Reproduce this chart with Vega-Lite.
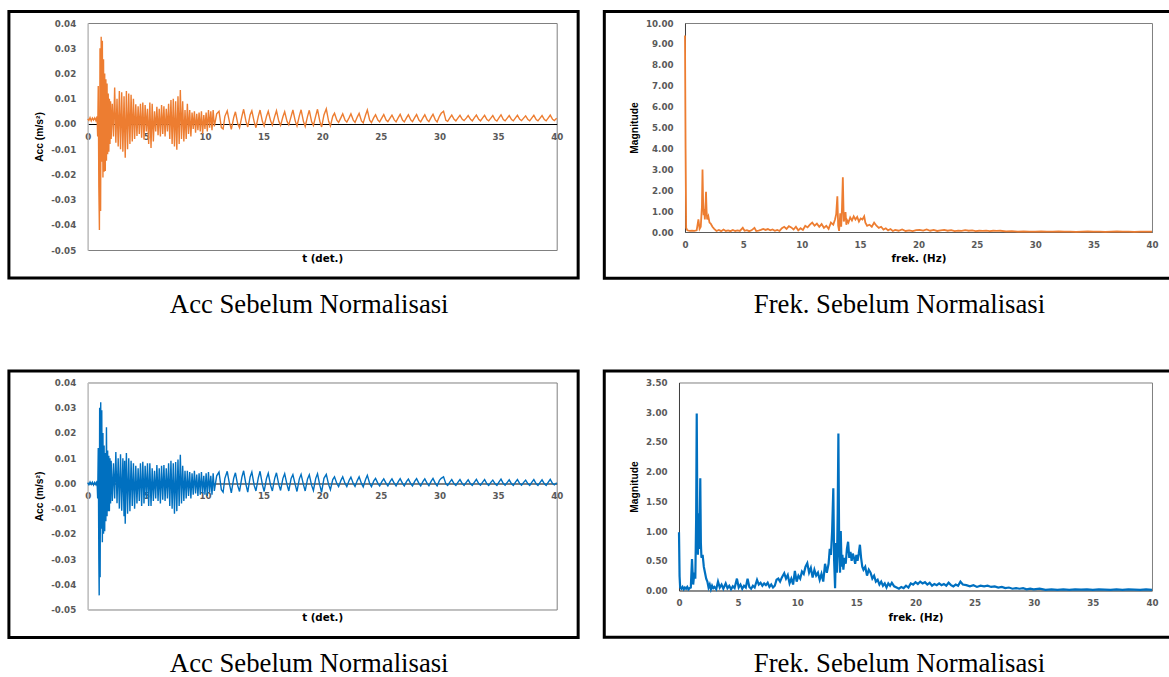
{
  "$schema": "https://vega.github.io/schema/vega-lite/v6.json",
  "padding": {"left": 6.7, "top": 9, "right": 0, "bottom": 0},
  "background": "white",
  "config": {
    "locale": {"number": {"decimal": ".", "thousands": ",", "grouping": [3], "currency": ["", ""], "minus": "-"}},
    "view": {"stroke": "#7f7f7f", "strokeWidth": 1},
    "axis": {"grid": false, "ticks": false, "tickSize": 0, "labelFont": "DejaVu Sans", "labelFontWeight": "bold", "labelFontSize": 8.7, "labelColor": "#595959", "labelFlush": false, "labelOverlap": false, "titleColor": "black"},
    "axisX": {"titleFont": "DejaVu Sans", "titleFontWeight": "bold", "titleFontSize": 10.3, "labelPadding": 8},
    "axisY": {"titleFont": "Liberation Sans", "titleFontWeight": "bold", "titleFontSize": 10.3, "labelPadding": 12, "titlePadding": 6},
    "title": {"font": "Liberation Serif", "fontSize": 26.7, "fontWeight": "normal", "color": "black", "orient": "bottom", "anchor": "middle", "offset": 12.3}
  },
  "datasets": {
    "accBefore": [
      {"t":0,"acc":0.0020},{"t":0.1,"acc":0.0014},{"t":0.2,"acc":0.0025},{"t":0.3,"acc":0.0012},{"t":0.4,"acc":0.0023},{"t":0.5,"acc":0.0015},{"t":0.6,"acc":0.0024},{"t":0.7,"acc":0.0013},{"t":0.8,"acc":0.0030},
      {"t":0.85,"acc":-0.0050},{"t":0.9,"acc":0.0150},{"t":0.95,"acc":-0.0250},{"t":1.0,"acc":-0.0421},{"t":1.05,"acc":0.0300},{"t":1.1,"acc":-0.0345},{"t":1.15,"acc":0.0345},{"t":1.2,"acc":-0.0150},{"t":1.25,"acc":0.0330},{"t":1.3,"acc":-0.0213},{"t":1.35,"acc":0.0256},{"t":1.4,"acc":-0.0190},{"t":1.45,"acc":0.0200},{"t":1.5,"acc":-0.0187},{"t":1.55,"acc":0.0177},{"t":1.6,"acc":-0.0146},{"t":1.65,"acc":0.0160},{"t":1.7,"acc":-0.0120},{"t":1.75,"acc":0.0120},{"t":1.8,"acc":-0.0110},{"t":1.85,"acc":0.0100},{"t":1.9,"acc":-0.0080},{"t":1.95,"acc":0.0090},{"t":2.0,"acc":-0.0060},
      {"t":2.1,"acc":0.0080},{"t":2.2,"acc":-0.0050},{"t":2.3,"acc":0.0144},{"t":2.4,"acc":-0.0075},{"t":2.5,"acc":0.0100},{"t":2.6,"acc":-0.0090},{"t":2.7,"acc":0.0130},{"t":2.8,"acc":-0.0100},{"t":2.9,"acc":0.0125},{"t":3.0,"acc":-0.0110},{"t":3.1,"acc":0.0110},{"t":3.2,"acc":-0.0134},{"t":3.3,"acc":0.0130},{"t":3.4,"acc":-0.0100},{"t":3.5,"acc":0.0120},{"t":3.6,"acc":-0.0080},{"t":3.7,"acc":0.0115},{"t":3.8,"acc":-0.0070},{"t":3.9,"acc":0.0100},{"t":4.0,"acc":-0.0060},
      {"t":4.1,"acc":0.0078},{"t":4.2,"acc":-0.0048},{"t":4.3,"acc":0.0070},{"t":4.4,"acc":-0.0040},{"t":4.5,"acc":0.0080},{"t":4.6,"acc":-0.0055},{"t":4.7,"acc":0.0085},{"t":4.8,"acc":-0.0062},{"t":4.9,"acc":0.0075},{"t":5.0,"acc":-0.0030},{"t":5.1,"acc":0.0060},{"t":5.2,"acc":-0.0080},{"t":5.3,"acc":0.0085},{"t":5.4,"acc":-0.0096},{"t":5.5,"acc":0.0080},{"t":5.6,"acc":-0.0070},{"t":5.7,"acc":0.0050},{"t":5.8,"acc":-0.0030},{"t":5.9,"acc":0.0068},{"t":6.0,"acc":-0.0045},
      {"t":6.1,"acc":0.0060},{"t":6.2,"acc":-0.0050},{"t":6.3,"acc":0.0075},{"t":6.4,"acc":-0.0040},{"t":6.5,"acc":0.0070},{"t":6.6,"acc":-0.0050},{"t":6.7,"acc":0.0060},{"t":6.8,"acc":-0.0030},{"t":6.9,"acc":0.0080},{"t":7.0,"acc":-0.0060},{"t":7.1,"acc":0.0095},{"t":7.2,"acc":-0.0080},{"t":7.3,"acc":0.0100},{"t":7.4,"acc":-0.0090},{"t":7.5,"acc":0.0090},{"t":7.6,"acc":-0.0102},{"t":7.7,"acc":0.0110},{"t":7.8,"acc":-0.0080},{"t":7.9,"acc":0.0134},{"t":8.0,"acc":-0.0060},
      {"t":8.1,"acc":0.0090},{"t":8.2,"acc":-0.0070},{"t":8.3,"acc":0.0055},{"t":8.4,"acc":-0.0060},{"t":8.5,"acc":0.0080},{"t":8.6,"acc":-0.0040},{"t":8.7,"acc":0.0055},{"t":8.8,"acc":-0.0050},{"t":8.9,"acc":0.0045},{"t":9.0,"acc":-0.0020},{"t":9.1,"acc":0.0050},{"t":9.2,"acc":-0.0035},{"t":9.3,"acc":0.0040},{"t":9.4,"acc":-0.0025},{"t":9.5,"acc":0.0045},{"t":9.6,"acc":-0.0030},{"t":9.7,"acc":0.0050},{"t":9.8,"acc":-0.0040},{"t":9.9,"acc":0.0035},{"t":10.0,"acc":-0.0020},
      {"t":10.1,"acc":0.0045},{"t":10.2,"acc":-0.0030},{"t":10.3,"acc":0.0055},{"t":10.4,"acc":-0.0015},{"t":10.5,"acc":0.0050},{"t":10.6,"acc":-0.0025},{"t":10.7,"acc":0.0055},{"t":10.8,"acc":-0.0010},
      {"t":11.0,"acc":0.0040},{"t":11.2,"acc":0.0050},{"t":11.4,"acc":-0.0015},{"t":11.55,"acc":-0.0020},{"t":11.7,"acc":0.0030},{"t":11.9,"acc":0.0052},{"t":12.1,"acc":0.0005},{"t":12.25,"acc":-0.0022},{"t":12.45,"acc":0.0025},{"t":12.6,"acc":0.0048},{"t":12.8,"acc":0.0000},{"t":12.95,"acc":-0.0015},{"t":13.15,"acc":0.0030},{"t":13.3,"acc":0.0058},{"t":13.5,"acc":0.0010},{"t":13.65,"acc":-0.0012},{"t":13.85,"acc":0.0035},{"t":14.0,"acc":0.0052},{"t":14.2,"acc":0.0008},{"t":14.35,"acc":-0.0015},{"t":14.55,"acc":0.0030},{"t":14.7,"acc":0.0055},{"t":14.9,"acc":0.0010},{"t":15.05,"acc":-0.0008},
      {"t":15.25,"acc":0.0030},{"t":15.4,"acc":0.0050},{"t":15.6,"acc":0.0012},{"t":15.75,"acc":-0.0005},{"t":15.95,"acc":0.0030},{"t":16.1,"acc":0.0052},{"t":16.3,"acc":0.0010},{"t":16.45,"acc":-0.0006},{"t":16.65,"acc":0.0028},{"t":16.8,"acc":0.0048},{"t":17.0,"acc":0.0010},{"t":17.15,"acc":-0.0004},{"t":17.35,"acc":0.0030},{"t":17.5,"acc":0.0055},{"t":17.7,"acc":0.0012},{"t":17.85,"acc":-0.0008},{"t":18.05,"acc":0.0032},{"t":18.2,"acc":0.0056},{"t":18.4,"acc":0.0010},{"t":18.55,"acc":-0.0010},{"t":18.75,"acc":0.0030},{"t":18.9,"acc":0.0054},{"t":19.1,"acc":0.0008},{"t":19.25,"acc":-0.0006},
      {"t":19.45,"acc":0.0032},{"t":19.6,"acc":0.0058},{"t":19.8,"acc":0.0010},{"t":19.95,"acc":-0.0012},{"t":20.15,"acc":0.0035},{"t":20.35,"acc":0.0060},{"t":20.55,"acc":0.0010},{"t":20.7,"acc":-0.0008},{"t":20.9,"acc":0.0030},{"t":21.05,"acc":0.0042},{"t":21.25,"acc":0.0015},{"t":21.4,"acc":0.0006},{"t":21.6,"acc":0.0025},{"t":21.75,"acc":0.0040},{"t":21.95,"acc":0.0015},{"t":22.1,"acc":0.0007},{"t":22.3,"acc":0.0025},{"t":22.45,"acc":0.0040},{"t":22.65,"acc":0.0015},{"t":22.8,"acc":0.0006},{"t":23.0,"acc":0.0028},{"t":23.15,"acc":0.0042},{"t":23.35,"acc":0.0012},{"t":23.5,"acc":0.0004},
      {"t":23.7,"acc":0.0035},{"t":23.85,"acc":0.0055},{"t":24.05,"acc":0.0015},{"t":24.2,"acc":0.0005},{"t":24.4,"acc":0.0025},{"t":24.55,"acc":0.0036},{"t":24.75,"acc":0.0015},{"t":24.9,"acc":0.0008},{"t":25.1,"acc":0.0025},{"t":25.25,"acc":0.0037},{"t":25.45,"acc":0.0015},{"t":25.6,"acc":0.0009},{"t":25.8,"acc":0.0024},{"t":25.95,"acc":0.0035},{"t":26.15,"acc":0.0016},{"t":26.3,"acc":0.0008},{"t":26.5,"acc":0.0026},{"t":26.65,"acc":0.0038},{"t":26.85,"acc":0.0015},{"t":27.0,"acc":0.0008},{"t":27.2,"acc":0.0025},{"t":27.35,"acc":0.0036},{"t":27.55,"acc":0.0016},{"t":27.7,"acc":0.0009},
      {"t":27.9,"acc":0.0026},{"t":28.05,"acc":0.0037},{"t":28.25,"acc":0.0015},{"t":28.4,"acc":0.0008},{"t":28.6,"acc":0.0025},{"t":28.75,"acc":0.0036},{"t":28.95,"acc":0.0016},{"t":29.1,"acc":0.0009},{"t":29.3,"acc":0.0027},{"t":29.45,"acc":0.0038},{"t":29.65,"acc":0.0016},{"t":29.8,"acc":0.0008},{"t":30.0,"acc":0.0030},{"t":30.15,"acc":0.0042},{"t":30.35,"acc":0.0050},{"t":30.55,"acc":0.0014},{"t":30.7,"acc":0.0010},{"t":30.9,"acc":0.0025},{"t":31.05,"acc":0.0035},{"t":31.25,"acc":0.0018},{"t":31.4,"acc":0.0012},{"t":31.6,"acc":0.0025},{"t":31.75,"acc":0.0034},{"t":31.95,"acc":0.0018},
      {"t":32.1,"acc":0.0013},{"t":32.3,"acc":0.0024},{"t":32.45,"acc":0.0033},{"t":32.65,"acc":0.0018},{"t":32.8,"acc":0.0012},{"t":33.0,"acc":0.0026},{"t":33.15,"acc":0.0035},{"t":33.35,"acc":0.0018},{"t":33.5,"acc":0.0012},{"t":33.7,"acc":0.0025},{"t":33.85,"acc":0.0034},{"t":34.05,"acc":0.0017},{"t":34.2,"acc":0.0012},{"t":34.4,"acc":0.0024},{"t":34.55,"acc":0.0033},{"t":34.75,"acc":0.0016},{"t":34.9,"acc":0.0011},{"t":35.1,"acc":0.0026},{"t":35.25,"acc":0.0036},{"t":35.45,"acc":0.0017},{"t":35.6,"acc":0.0012},{"t":35.8,"acc":0.0024},{"t":35.95,"acc":0.0033},{"t":36.15,"acc":0.0017},
      {"t":36.3,"acc":0.0012},{"t":36.5,"acc":0.0025},{"t":36.65,"acc":0.0034},{"t":36.85,"acc":0.0018},{"t":37.0,"acc":0.0013},{"t":37.2,"acc":0.0024},{"t":37.35,"acc":0.0032},{"t":37.55,"acc":0.0017},{"t":37.7,"acc":0.0012},{"t":37.9,"acc":0.0025},{"t":38.05,"acc":0.0034},{"t":38.25,"acc":0.0017},{"t":38.4,"acc":0.0012},{"t":38.6,"acc":0.0024},{"t":38.75,"acc":0.0033},{"t":38.95,"acc":0.0017},{"t":39.1,"acc":0.0012},{"t":39.3,"acc":0.0025},{"t":39.45,"acc":0.0035},{"t":39.65,"acc":0.0018},{"t":39.8,"acc":0.0013},{"t":40.0,"acc":0.0022}
    ],
    "freqBefore": [
      {"f":0,"mag":9.40},{"f":0.05,"mag":4.0},{"f":0.1,"mag":0.20},{"f":0.2,"mag":0.08},{"f":0.4,"mag":0.05},{"f":0.6,"mag":0.06},{"f":0.8,"mag":0.05},{"f":1.0,"mag":0.08},{"f":1.15,"mag":0.60},{"f":1.25,"mag":0.15},{"f":1.35,"mag":0.25},{"f":1.45,"mag":1.20},{"f":1.5,"mag":2.99},{"f":1.55,"mag":1.50},{"f":1.6,"mag":0.80},{"f":1.65,"mag":1.10},{"f":1.7,"mag":0.60},{"f":1.75,"mag":1.10},{"f":1.8,"mag":1.92},{"f":1.85,"mag":1.00},{"f":1.9,"mag":0.60},{"f":2.0,"mag":0.75},{"f":2.1,"mag":0.45},{"f":2.2,"mag":0.40},{"f":2.35,"mag":0.25},{"f":2.5,"mag":0.15},
      {"f":2.7,"mag":0.05},{"f":2.9,"mag":0.10},{"f":3.1,"mag":0.04},{"f":3.3,"mag":0.12},{"f":3.5,"mag":0.05},{"f":3.7,"mag":0.08},{"f":3.9,"mag":0.04},{"f":4.1,"mag":0.10},{"f":4.3,"mag":0.05},{"f":4.5,"mag":0.08},{"f":4.7,"mag":0.05},{"f":4.95,"mag":0.20},{"f":5.1,"mag":0.06},{"f":5.3,"mag":0.09},{"f":5.5,"mag":0.04},{"f":5.7,"mag":0.08},{"f":5.95,"mag":0.20},{"f":6.1,"mag":0.05},{"f":6.3,"mag":0.07},{"f":6.5,"mag":0.10},{"f":6.7,"mag":0.15},{"f":6.9,"mag":0.10},{"f":7.1,"mag":0.14},{"f":7.3,"mag":0.08},{"f":7.5,"mag":0.12},{"f":7.7,"mag":0.06},{"f":7.9,"mag":0.10},
      {"f":8.1,"mag":0.05},{"f":8.3,"mag":0.18},{"f":8.5,"mag":0.25},{"f":8.7,"mag":0.15},{"f":8.9,"mag":0.28},{"f":9.1,"mag":0.22},{"f":9.3,"mag":0.12},{"f":9.5,"mag":0.25},{"f":9.7,"mag":0.08},{"f":9.9,"mag":0.18},{"f":10.1,"mag":0.10},{"f":10.3,"mag":0.30},{"f":10.5,"mag":0.22},{"f":10.7,"mag":0.35},{"f":10.9,"mag":0.45},{"f":11.1,"mag":0.30},{"f":11.3,"mag":0.40},{"f":11.5,"mag":0.25},{"f":11.7,"mag":0.38},{"f":11.9,"mag":0.20},{"f":12.1,"mag":0.30},{"f":12.3,"mag":0.15},{"f":12.5,"mag":0.45},{"f":12.7,"mag":0.35},{"f":12.85,"mag":0.60},{"f":12.95,"mag":0.85},
      {"f":13.05,"mag":1.71},{"f":13.12,"mag":0.30},{"f":13.2,"mag":0.05},{"f":13.3,"mag":0.90},{"f":13.38,"mag":0.25},{"f":13.45,"mag":1.20},{"f":13.52,"mag":2.62},{"f":13.6,"mag":0.50},{"f":13.68,"mag":0.70},{"f":13.75,"mag":0.95},{"f":13.82,"mag":0.35},{"f":13.9,"mag":0.55},{"f":14.0,"mag":0.45},{"f":14.15,"mag":0.70},{"f":14.3,"mag":0.55},{"f":14.45,"mag":0.75},{"f":14.6,"mag":0.60},{"f":14.75,"mag":0.72},{"f":14.9,"mag":0.50},{"f":15.05,"mag":0.65},{"f":15.2,"mag":0.60},{"f":15.35,"mag":0.75},{"f":15.45,"mag":0.45},{"f":15.6,"mag":0.30},{"f":15.8,"mag":0.35},
      {"f":16.0,"mag":0.25},{"f":16.2,"mag":0.45},{"f":16.4,"mag":0.30},{"f":16.6,"mag":0.20},{"f":16.8,"mag":0.25},{"f":17.0,"mag":0.12},{"f":17.2,"mag":0.18},{"f":17.4,"mag":0.08},{"f":17.6,"mag":0.14},{"f":17.8,"mag":0.05},{"f":18.0,"mag":0.10},{"f":18.3,"mag":0.06},{"f":18.6,"mag":0.12},{"f":18.9,"mag":0.05},{"f":19.2,"mag":0.08},{"f":19.5,"mag":0.04},{"f":19.8,"mag":0.09},{"f":20.1,"mag":0.10},{"f":20.4,"mag":0.07},{"f":20.7,"mag":0.12},{"f":21.0,"mag":0.06},{"f":21.3,"mag":0.10},{"f":21.6,"mag":0.05},{"f":21.9,"mag":0.08},{"f":22.2,"mag":0.10},
      {"f":22.5,"mag":0.06},{"f":22.8,"mag":0.09},{"f":23.1,"mag":0.04},{"f":23.4,"mag":0.07},{"f":23.7,"mag":0.05},{"f":24.0,"mag":0.09},{"f":24.3,"mag":0.06},{"f":24.6,"mag":0.08},{"f":24.9,"mag":0.04},{"f":25.2,"mag":0.06},{"f":25.5,"mag":0.05},{"f":25.8,"mag":0.07},{"f":26.1,"mag":0.04},{"f":26.4,"mag":0.06},{"f":26.7,"mag":0.05},{"f":27.0,"mag":0.06},{"f":27.5,"mag":0.03},{"f":28.0,"mag":0.04},{"f":28.5,"mag":0.02},{"f":29.0,"mag":0.03},{"f":29.5,"mag":0.02},{"f":30.0,"mag":0.02},{"f":30.5,"mag":0.03},{"f":31.0,"mag":0.015},{"f":31.5,"mag":0.02},
      {"f":32.0,"mag":0.03},{"f":32.5,"mag":0.015},{"f":33.0,"mag":0.02},{"f":33.5,"mag":0.01},{"f":34.0,"mag":0.02},{"f":34.5,"mag":0.03},{"f":35.0,"mag":0.015},{"f":35.5,"mag":0.02},{"f":36.0,"mag":0.01},{"f":36.5,"mag":0.02},{"f":37.0,"mag":0.03},{"f":37.5,"mag":0.015},{"f":38.0,"mag":0.02},{"f":38.5,"mag":0.01},{"f":39.0,"mag":0.02},{"f":39.5,"mag":0.015},{"f":40.0,"mag":0.02}
    ],
    "accAfter": [
      {"t":0,"acc":0.0003},{"t":0.1,"acc":-0.0005},{"t":0.2,"acc":0.0006},{"t":0.3,"acc":-0.0004},{"t":0.4,"acc":0.0005},{"t":0.5,"acc":-0.0006},{"t":0.6,"acc":0.0004},{"t":0.7,"acc":-0.0005},{"t":0.8,"acc":0.0010},
      {"t":0.85,"acc":-0.0060},{"t":0.9,"acc":0.0140},{"t":0.95,"acc":-0.0300},{"t":0.98,"acc":-0.0444},{"t":1.02,"acc":0.0300},{"t":1.06,"acc":-0.0372},{"t":1.11,"acc":0.0322},{"t":1.15,"acc":-0.0180},{"t":1.2,"acc":0.0290},{"t":1.25,"acc":-0.0233},{"t":1.3,"acc":0.0200},{"t":1.35,"acc":-0.0200},{"t":1.4,"acc":0.0150},{"t":1.45,"acc":-0.0190},{"t":1.5,"acc":0.0120},{"t":1.55,"acc":-0.0150},{"t":1.6,"acc":0.0223},{"t":1.65,"acc":-0.0130},{"t":1.7,"acc":0.0130},{"t":1.75,"acc":-0.0110},{"t":1.8,"acc":0.0110},{"t":1.85,"acc":-0.0110},{"t":1.9,"acc":0.0100},{"t":1.95,"acc":-0.0080},{"t":2.0,"acc":0.0090},
      {"t":2.1,"acc":-0.0070},{"t":2.2,"acc":0.0080},{"t":2.3,"acc":-0.0060},{"t":2.4,"acc":0.0124},{"t":2.5,"acc":-0.0079},{"t":2.6,"acc":0.0100},{"t":2.7,"acc":-0.0100},{"t":2.8,"acc":0.0115},{"t":2.9,"acc":-0.0108},{"t":3.0,"acc":0.0100},{"t":3.1,"acc":-0.0130},{"t":3.15,"acc":0.0090},{"t":3.2,"acc":-0.0160},{"t":3.3,"acc":0.0120},{"t":3.4,"acc":-0.0120},{"t":3.5,"acc":0.0100},{"t":3.6,"acc":-0.0110},{"t":3.7,"acc":0.0090},{"t":3.8,"acc":-0.0090},{"t":3.9,"acc":0.0080},{"t":4.0,"acc":-0.0100},
      {"t":4.1,"acc":0.0070},{"t":4.2,"acc":-0.0080},{"t":4.3,"acc":0.0060},{"t":4.4,"acc":-0.0070},{"t":4.5,"acc":0.0080},{"t":4.6,"acc":-0.0090},{"t":4.7,"acc":0.0086},{"t":4.8,"acc":-0.0080},{"t":4.9,"acc":0.0070},{"t":5.0,"acc":-0.0060},{"t":5.1,"acc":0.0080},{"t":5.2,"acc":-0.0090},{"t":5.3,"acc":0.0080},{"t":5.4,"acc":-0.0090},{"t":5.5,"acc":0.0060},{"t":5.6,"acc":-0.0070},{"t":5.7,"acc":0.0050},{"t":5.8,"acc":-0.0060},{"t":5.9,"acc":0.0073},{"t":6.0,"acc":-0.0070},
      {"t":6.1,"acc":0.0060},{"t":6.2,"acc":-0.0080},{"t":6.3,"acc":0.0070},{"t":6.4,"acc":-0.0065},{"t":6.5,"acc":0.0073},{"t":6.6,"acc":-0.0070},{"t":6.7,"acc":0.0060},{"t":6.8,"acc":-0.0060},{"t":6.9,"acc":0.0080},{"t":7.0,"acc":-0.0090},{"t":7.1,"acc":0.0090},{"t":7.2,"acc":-0.0100},{"t":7.3,"acc":0.0080},{"t":7.4,"acc":-0.0120},{"t":7.5,"acc":0.0085},{"t":7.6,"acc":-0.0110},{"t":7.7,"acc":0.0095},{"t":7.8,"acc":-0.0090},{"t":7.9,"acc":0.0113},{"t":8.0,"acc":-0.0080},
      {"t":8.1,"acc":0.0070},{"t":8.2,"acc":-0.0070},{"t":8.3,"acc":0.0050},{"t":8.4,"acc":-0.0060},{"t":8.5,"acc":0.0050},{"t":8.6,"acc":-0.0050},{"t":8.7,"acc":0.0045},{"t":8.8,"acc":-0.0060},{"t":8.9,"acc":0.0040},{"t":9.0,"acc":-0.0045},{"t":9.1,"acc":0.0050},{"t":9.2,"acc":-0.0040},{"t":9.3,"acc":0.0035},{"t":9.4,"acc":-0.0050},{"t":9.5,"acc":0.0040},{"t":9.6,"acc":-0.0045},{"t":9.7,"acc":0.0045},{"t":9.8,"acc":-0.0040},{"t":9.9,"acc":0.0030},{"t":10.0,"acc":-0.0045},
      {"t":10.1,"acc":0.0040},{"t":10.2,"acc":-0.0050},{"t":10.3,"acc":0.0045},{"t":10.4,"acc":-0.0035},{"t":10.5,"acc":0.0030},{"t":10.6,"acc":-0.0045},{"t":10.7,"acc":0.0040},{"t":10.8,"acc":-0.0030},
      {"t":11.0,"acc":0.0030},{"t":11.2,"acc":0.0045},{"t":11.4,"acc":-0.0025},{"t":11.55,"acc":-0.0035},{"t":11.7,"acc":0.0020},{"t":11.9,"acc":0.0048},{"t":12.1,"acc":-0.0005},{"t":12.25,"acc":-0.0038},{"t":12.45,"acc":0.0020},{"t":12.6,"acc":0.0042},{"t":12.8,"acc":-0.0010},{"t":12.95,"acc":-0.0032},{"t":13.15,"acc":0.0025},{"t":13.3,"acc":0.0050},{"t":13.5,"acc":-0.0005},{"t":13.65,"acc":-0.0035},{"t":13.85,"acc":0.0025},{"t":14.0,"acc":0.0045},{"t":14.2,"acc":-0.0008},{"t":14.35,"acc":-0.0030},{"t":14.55,"acc":0.0022},{"t":14.7,"acc":0.0048},{"t":14.9,"acc":-0.0005},{"t":15.05,"acc":-0.0032},
      {"t":15.25,"acc":0.0020},{"t":15.4,"acc":0.0040},{"t":15.6,"acc":-0.0008},{"t":15.75,"acc":-0.0030},{"t":15.95,"acc":0.0020},{"t":16.1,"acc":0.0042},{"t":16.3,"acc":-0.0005},{"t":16.45,"acc":-0.0028},{"t":16.65,"acc":0.0020},{"t":16.8,"acc":0.0038},{"t":17.0,"acc":-0.0005},{"t":17.15,"acc":-0.0030},{"t":17.35,"acc":0.0020},{"t":17.5,"acc":0.0035},{"t":17.7,"acc":-0.0005},{"t":17.85,"acc":-0.0032},{"t":18.05,"acc":0.0018},{"t":18.2,"acc":0.0036},{"t":18.4,"acc":-0.0005},{"t":18.55,"acc":-0.0030},{"t":18.75,"acc":0.0018},{"t":18.9,"acc":0.0034},{"t":19.1,"acc":-0.0008},{"t":19.25,"acc":-0.0028},
      {"t":19.45,"acc":0.0020},{"t":19.6,"acc":0.0038},{"t":19.8,"acc":-0.0008},{"t":19.95,"acc":-0.0035},{"t":20.15,"acc":0.0020},{"t":20.35,"acc":0.0036},{"t":20.55,"acc":-0.0005},{"t":20.7,"acc":-0.0025},{"t":20.9,"acc":0.0015},{"t":21.05,"acc":0.0026},{"t":21.25,"acc":0.0000},{"t":21.4,"acc":-0.0013},{"t":21.6,"acc":0.0012},{"t":21.75,"acc":0.0026},{"t":21.95,"acc":0.0000},{"t":22.1,"acc":-0.0013},{"t":22.3,"acc":0.0012},{"t":22.45,"acc":0.0025},{"t":22.65,"acc":0.0000},{"t":22.8,"acc":-0.0012},{"t":23.0,"acc":0.0012},{"t":23.15,"acc":0.0026},{"t":23.35,"acc":0.0000},{"t":23.5,"acc":-0.0014},
      {"t":23.7,"acc":0.0015},{"t":23.85,"acc":0.0032},{"t":24.05,"acc":0.0000},{"t":24.2,"acc":-0.0013},{"t":24.4,"acc":0.0010},{"t":24.55,"acc":0.0020},{"t":24.75,"acc":0.0000},{"t":24.9,"acc":-0.0010},{"t":25.1,"acc":0.0008},{"t":25.25,"acc":0.0018},{"t":25.45,"acc":0.0000},{"t":25.6,"acc":-0.0010},{"t":25.8,"acc":0.0008},{"t":25.95,"acc":0.0018},{"t":26.15,"acc":0.0000},{"t":26.3,"acc":-0.0010},{"t":26.5,"acc":0.0008},{"t":26.65,"acc":0.0019},{"t":26.85,"acc":0.0000},{"t":27.0,"acc":-0.0010},{"t":27.2,"acc":0.0008},{"t":27.35,"acc":0.0017},{"t":27.55,"acc":-0.0001},{"t":27.7,"acc":-0.0010},
      {"t":27.9,"acc":0.0009},{"t":28.05,"acc":0.0019},{"t":28.25,"acc":0.0000},{"t":28.4,"acc":-0.0010},{"t":28.6,"acc":0.0008},{"t":28.75,"acc":0.0018},{"t":28.95,"acc":0.0000},{"t":29.1,"acc":-0.0009},{"t":29.3,"acc":0.0009},{"t":29.45,"acc":0.0020},{"t":29.65,"acc":0.0000},{"t":29.8,"acc":-0.0010},{"t":30.0,"acc":0.0012},{"t":30.15,"acc":0.0020},{"t":30.35,"acc":0.0026},{"t":30.55,"acc":-0.0002},{"t":30.7,"acc":-0.0008},{"t":30.9,"acc":0.0006},{"t":31.05,"acc":0.0015},{"t":31.25,"acc":-0.0002},{"t":31.4,"acc":-0.0008},{"t":31.6,"acc":0.0006},{"t":31.75,"acc":0.0015},{"t":31.95,"acc":-0.0001},
      {"t":32.1,"acc":-0.0008},{"t":32.3,"acc":0.0005},{"t":32.45,"acc":0.0014},{"t":32.65,"acc":-0.0002},{"t":32.8,"acc":-0.0008},{"t":33.0,"acc":0.0006},{"t":33.15,"acc":0.0016},{"t":33.35,"acc":-0.0001},{"t":33.5,"acc":-0.0007},{"t":33.7,"acc":0.0006},{"t":33.85,"acc":0.0015},{"t":34.05,"acc":-0.0002},{"t":34.2,"acc":-0.0008},{"t":34.4,"acc":0.0005},{"t":34.55,"acc":0.0013},{"t":34.75,"acc":-0.0002},{"t":34.9,"acc":-0.0008},{"t":35.1,"acc":0.0007},{"t":35.25,"acc":0.0017},{"t":35.45,"acc":-0.0001},{"t":35.6,"acc":-0.0007},{"t":35.8,"acc":0.0005},{"t":35.95,"acc":0.0014},{"t":36.15,"acc":-0.0002},
      {"t":36.3,"acc":-0.0008},{"t":36.5,"acc":0.0006},{"t":36.65,"acc":0.0015},{"t":36.85,"acc":-0.0001},{"t":37.0,"acc":-0.0007},{"t":37.2,"acc":0.0005},{"t":37.35,"acc":0.0013},{"t":37.55,"acc":-0.0002},{"t":37.7,"acc":-0.0008},{"t":37.9,"acc":0.0006},{"t":38.05,"acc":0.0015},{"t":38.25,"acc":-0.0002},{"t":38.4,"acc":-0.0008},{"t":38.6,"acc":0.0005},{"t":38.75,"acc":0.0014},{"t":38.95,"acc":-0.0002},{"t":39.1,"acc":-0.0008},{"t":39.3,"acc":0.0006},{"t":39.45,"acc":0.0016},{"t":39.65,"acc":-0.0001},{"t":39.8,"acc":-0.0006},{"t":40.0,"acc":0.0003}
    ],
    "freqAfter": [
      {"f":0,"mag":0.98},{"f":0.05,"mag":0.24},{"f":0.1,"mag":0.05},{"f":0.2,"mag":0.03},{"f":0.3,"mag":0.06},{"f":0.4,"mag":0.02},{"f":0.5,"mag":0.05},{"f":0.6,"mag":0.03},{"f":0.7,"mag":0.06},{"f":0.8,"mag":0.02},{"f":0.9,"mag":0.04},{"f":1.0,"mag":0.05},{"f":1.1,"mag":0.53},{"f":1.2,"mag":0.10},{"f":1.3,"mag":0.30},{"f":1.38,"mag":0.20},{"f":1.45,"mag":1.20},{"f":1.5,"mag":2.98},{"f":1.55,"mag":1.30},{"f":1.6,"mag":0.60},{"f":1.65,"mag":1.30},{"f":1.7,"mag":0.70},{"f":1.75,"mag":1.00},{"f":1.8,"mag":1.89},{"f":1.85,"mag":0.80},{"f":1.9,"mag":0.55},
      {"f":2.0,"mag":0.60},{"f":2.1,"mag":0.40},{"f":2.2,"mag":0.30},{"f":2.3,"mag":0.20},{"f":2.4,"mag":0.15},{"f":2.5,"mag":0.05},{"f":2.6,"mag":0.10},{"f":2.7,"mag":0.02},{"f":2.8,"mag":0.08},{"f":2.9,"mag":0.04},{"f":3.0,"mag":0.06},{"f":3.15,"mag":0.02},{"f":3.3,"mag":0.15},{"f":3.45,"mag":0.05},{"f":3.6,"mag":0.10},{"f":3.75,"mag":0.03},{"f":3.95,"mag":0.12},{"f":4.1,"mag":0.04},{"f":4.25,"mag":0.08},{"f":4.4,"mag":0.02},{"f":4.55,"mag":0.07},{"f":4.7,"mag":0.04},{"f":4.9,"mag":0.20},{"f":5.05,"mag":0.05},{"f":5.2,"mag":0.10},{"f":5.35,"mag":0.03},{"f":5.5,"mag":0.08},{"f":5.65,"mag":0.05},
      {"f":5.8,"mag":0.20},{"f":5.95,"mag":0.06},{"f":6.1,"mag":0.03},{"f":6.25,"mag":0.08},{"f":6.4,"mag":0.05},{"f":6.6,"mag":0.18},{"f":6.75,"mag":0.10},{"f":6.9,"mag":0.13},{"f":7.05,"mag":0.08},{"f":7.2,"mag":0.12},{"f":7.35,"mag":0.09},{"f":7.5,"mag":0.13},{"f":7.65,"mag":0.06},{"f":7.8,"mag":0.10},{"f":7.95,"mag":0.05},{"f":8.1,"mag":0.08},{"f":8.25,"mag":0.18},{"f":8.4,"mag":0.20},{"f":8.55,"mag":0.15},{"f":8.7,"mag":0.22},{"f":8.9,"mag":0.29},{"f":9.05,"mag":0.20},{"f":9.2,"mag":0.26},{"f":9.35,"mag":0.12},{"f":9.5,"mag":0.20},{"f":9.65,"mag":0.10},
      {"f":9.8,"mag":0.33},{"f":9.95,"mag":0.15},{"f":10.1,"mag":0.25},{"f":10.25,"mag":0.20},{"f":10.4,"mag":0.32},{"f":10.55,"mag":0.28},{"f":10.7,"mag":0.40},{"f":10.85,"mag":0.46},{"f":11.0,"mag":0.30},{"f":11.15,"mag":0.38},{"f":11.3,"mag":0.22},{"f":11.45,"mag":0.35},{"f":11.6,"mag":0.25},{"f":11.75,"mag":0.30},{"f":11.9,"mag":0.18},{"f":12.05,"mag":0.28},{"f":12.2,"mag":0.15},{"f":12.35,"mag":0.45},{"f":12.5,"mag":0.30},{"f":12.65,"mag":0.45},{"f":12.75,"mag":0.70},{"f":12.85,"mag":0.60},{"f":12.95,"mag":1.00},
      {"f":13.05,"mag":1.72},{"f":13.12,"mag":0.50},{"f":13.2,"mag":0.04},{"f":13.28,"mag":0.80},{"f":13.35,"mag":0.30},{"f":13.42,"mag":1.30},{"f":13.48,"mag":2.64},{"f":13.55,"mag":0.60},{"f":13.62,"mag":0.30},{"f":13.68,"mag":1.00},{"f":13.75,"mag":0.40},{"f":13.82,"mag":0.60},{"f":13.9,"mag":0.35},{"f":14.0,"mag":0.55},{"f":14.1,"mag":0.45},{"f":14.2,"mag":0.70},{"f":14.3,"mag":0.82},{"f":14.4,"mag":0.55},{"f":14.5,"mag":0.65},{"f":14.6,"mag":0.50},{"f":14.7,"mag":0.62},{"f":14.8,"mag":0.55},{"f":14.9,"mag":0.45},{"f":15.0,"mag":0.60},{"f":15.1,"mag":0.50},
      {"f":15.2,"mag":0.62},{"f":15.3,"mag":0.77},{"f":15.4,"mag":0.55},{"f":15.5,"mag":0.40},{"f":15.6,"mag":0.35},{"f":15.75,"mag":0.40},{"f":15.9,"mag":0.25},{"f":16.05,"mag":0.35},{"f":16.2,"mag":0.30},{"f":16.35,"mag":0.20},{"f":16.5,"mag":0.25},{"f":16.65,"mag":0.15},{"f":16.8,"mag":0.18},{"f":16.95,"mag":0.10},{"f":17.1,"mag":0.15},{"f":17.25,"mag":0.08},{"f":17.4,"mag":0.12},{"f":17.55,"mag":0.05},{"f":17.7,"mag":0.12},{"f":17.85,"mag":0.08},{"f":18.0,"mag":0.13},{"f":18.2,"mag":0.07},{"f":18.4,"mag":0.05},{"f":18.6,"mag":0.03},{"f":18.8,"mag":0.06},
      {"f":19.0,"mag":0.04},{"f":19.2,"mag":0.08},{"f":19.4,"mag":0.05},{"f":19.6,"mag":0.12},{"f":19.8,"mag":0.10},{"f":20.0,"mag":0.14},{"f":20.2,"mag":0.11},{"f":20.4,"mag":0.15},{"f":20.6,"mag":0.12},{"f":20.8,"mag":0.14},{"f":21.0,"mag":0.10},{"f":21.2,"mag":0.13},{"f":21.4,"mag":0.08},{"f":21.6,"mag":0.11},{"f":21.8,"mag":0.09},{"f":22.0,"mag":0.12},{"f":22.2,"mag":0.09},{"f":22.4,"mag":0.11},{"f":22.6,"mag":0.08},{"f":22.8,"mag":0.13},{"f":23.0,"mag":0.09},{"f":23.2,"mag":0.07},{"f":23.4,"mag":0.10},{"f":23.6,"mag":0.08},{"f":23.8,"mag":0.15},
      {"f":24.0,"mag":0.10},{"f":24.3,"mag":0.09},{"f":24.6,"mag":0.07},{"f":24.9,"mag":0.09},{"f":25.2,"mag":0.06},{"f":25.5,"mag":0.08},{"f":25.8,"mag":0.07},{"f":26.1,"mag":0.08},{"f":26.4,"mag":0.06},{"f":26.7,"mag":0.07},{"f":27.0,"mag":0.05},{"f":27.3,"mag":0.06},{"f":27.6,"mag":0.04},{"f":27.9,"mag":0.05},{"f":28.2,"mag":0.03},{"f":28.5,"mag":0.04},{"f":28.8,"mag":0.03},{"f":29.1,"mag":0.04},{"f":29.4,"mag":0.02},{"f":29.7,"mag":0.03},{"f":30.0,"mag":0.02},{"f":30.5,"mag":0.03},{"f":31.0,"mag":0.01},{"f":31.5,"mag":0.02},{"f":32.0,"mag":0.01},
      {"f":32.5,"mag":0.02},{"f":33.0,"mag":0.01},{"f":33.5,"mag":0.02},{"f":34.0,"mag":0.015},{"f":34.5,"mag":0.02},{"f":35.0,"mag":0.01},{"f":35.5,"mag":0.02},{"f":36.0,"mag":0.015},{"f":36.5,"mag":0.01},{"f":37.0,"mag":0.02},{"f":37.5,"mag":0.01},{"f":38.0,"mag":0.02},{"f":38.5,"mag":0.015},{"f":39.0,"mag":0.01},{"f":39.5,"mag":0.02},{"f":40.0,"mag":0.01}
    ],
    "frame": [{}]
  },
  "spacing": 48.5,
  "vconcat": [
    {
      "hconcat": [
        {
          "width": 469, "height": 227,
          "title": {"text": "Acc Sebelum Normalisasi", "dx": -13},
          "resolve": {"scale": {"x": "independent", "y": "independent"}, "axis": {"x": "independent", "y": "independent"}},
          "layer": [
            {
              "data": {"name": "accBefore"},
              "mark": {"type": "line", "color": "#ED7D31", "strokeWidth": 1.4},
              "encoding": {
                "x": {"field": "t", "type": "quantitative", "scale": {"domain": [0, 40], "nice": false, "zero": false},
                      "axis": {"title": "t (det.)", "orient": "bottom", "values": [0, 5, 10, 15, 20, 25, 30, 35, 40], "format": "d", "offset": -126, "domainColor": "black", "titleY": 129.5}},
                "y": {"field": "acc", "type": "quantitative", "scale": {"domain": [-0.05, 0.04], "nice": false, "zero": false},
                      "axis": {"title": "Acc (m/s²)", "orient": "left", "values": [-0.05, -0.04, -0.03, -0.02, -0.01, 0, 0.01, 0.02, 0.03, 0.04], "format": ".2f", "domainColor": "#d0d0d0"}}
              }
            },
            {
              "data": {"name": "frame"},
              "mark": {"type": "rect", "filled": false, "color": "black", "strokeWidth": 3},
              "encoding": {
                "x": {"datum": -6.72, "type": "quantitative", "scale": {"domain": [0, 40], "nice": false, "zero": false}, "axis": null}, "x2": {"datum": 41.83},
                "y": {"datum": 0.04456, "type": "quantitative", "scale": {"domain": [-0.05, 0.04], "nice": false, "zero": false}, "axis": null}, "y2": {"datum": -0.0611}
              }
            }
          ]
        },
        {
          "width": 467, "height": 209,
          "title": {"text": "Frek. Sebelum Normalisasi", "dx": -19},
          "resolve": {"scale": {"x": "independent", "y": "independent"}, "axis": {"x": "independent", "y": "independent"}},
          "layer": [
            {
              "data": {"name": "freqBefore"},
              "mark": {"type": "line", "color": "#ED7D31", "strokeWidth": 1.8},
              "encoding": {
                "x": {"field": "f", "type": "quantitative", "scale": {"domain": [0, 40], "nice": false, "zero": false},
                      "axis": {"title": "frek. (Hz)", "orient": "bottom", "values": [0, 5, 10, 15, 20, 25, 30, 35, 40], "format": "d", "domainColor": "#595959", "titleY": 21.8}},
                "y": {"field": "mag", "type": "quantitative", "scale": {"domain": [0, 10], "nice": false},
                      "axis": {"title": "Magnitude", "orient": "left", "values": [0, 1, 2, 3, 4, 5, 6, 7, 8, 9, 10], "format": ".2f", "domainColor": "#404040"}}
              }
            },
            {
              "data": {"name": "frame"},
              "mark": {"type": "rect", "filled": false, "color": "black", "strokeWidth": 3},
              "encoding": {
                "x": {"datum": -6.91, "type": "quantitative", "scale": {"domain": [0, 40], "nice": false, "zero": false}, "axis": null}, "x2": {"datum": 41.74},
                "y": {"datum": 10.551, "type": "quantitative", "scale": {"domain": [0, 10], "nice": false}, "axis": null}, "y2": {"datum": -2.218}
              }
            }
          ]
        }
      ],
      "spacing": 128.3,
      "bounds": "flush"
    },
    {
      "hconcat": [
        {
          "width": 469, "height": 227,
          "title": {"text": "Acc Sebelum Normalisasi", "dx": -13},
          "resolve": {"scale": {"x": "independent", "y": "independent"}, "axis": {"x": "independent", "y": "independent"}},
          "layer": [
            {
              "data": {"name": "accAfter"},
              "mark": {"type": "line", "color": "#0070C0", "strokeWidth": 1.4},
              "encoding": {
                "x": {"field": "t", "type": "quantitative", "scale": {"domain": [0, 40], "nice": false, "zero": false},
                      "axis": {"title": "t (det.)", "orient": "bottom", "values": [0, 5, 10, 15, 20, 25, 30, 35, 40], "format": "d", "offset": -126, "domainColor": "black", "titleY": 129.5}},
                "y": {"field": "acc", "type": "quantitative", "scale": {"domain": [-0.05, 0.04], "nice": false, "zero": false},
                      "axis": {"title": "Acc (m/s²)", "orient": "left", "values": [-0.05, -0.04, -0.03, -0.02, -0.01, 0, 0.01, 0.02, 0.03, 0.04], "format": ".2f", "domainColor": "#d0d0d0"}}
              }
            },
            {
              "data": {"name": "frame"},
              "mark": {"type": "rect", "filled": false, "color": "black", "strokeWidth": 3},
              "encoding": {
                "x": {"datum": -6.72, "type": "quantitative", "scale": {"domain": [0, 40], "nice": false, "zero": false}, "axis": null}, "x2": {"datum": 41.83},
                "y": {"datum": 0.04456, "type": "quantitative", "scale": {"domain": [-0.05, 0.04], "nice": false, "zero": false}, "axis": null}, "y2": {"datum": -0.0611}
              }
            }
          ]
        },
        {
          "width": 473, "height": 208,
          "title": {"text": "Frek. Sebelum Normalisasi", "dx": -16},
          "resolve": {"scale": {"x": "independent", "y": "independent"}, "axis": {"x": "independent", "y": "independent"}},
          "layer": [
            {
              "data": {"name": "freqAfter"},
              "mark": {"type": "line", "color": "#0070C0", "strokeWidth": 2.2},
              "encoding": {
                "x": {"field": "f", "type": "quantitative", "scale": {"domain": [0, 40], "nice": false, "zero": false},
                      "axis": {"title": "frek. (Hz)", "orient": "bottom", "values": [0, 5, 10, 15, 20, 25, 30, 35, 40], "format": "d", "domainColor": "#595959", "titleY": 21.8}},
                "y": {"field": "mag", "type": "quantitative", "scale": {"domain": [0, 3.5], "nice": false},
                      "axis": {"title": "Magnitude", "orient": "left", "values": [0, 0.5, 1, 1.5, 2, 2.5, 3, 3.5], "format": ".2f", "domainColor": "#404040"}}
              }
            },
            {
              "data": {"name": "frame"},
              "mark": {"type": "rect", "filled": false, "color": "black", "strokeWidth": 3},
              "encoding": {
                "x": {"datum": -6.32, "type": "quantitative", "scale": {"domain": [0, 40], "nice": false, "zero": false}, "axis": null}, "x2": {"datum": 41.72},
                "y": {"datum": 3.692, "type": "quantitative", "scale": {"domain": [0, 3.5], "nice": false}, "axis": null}, "y2": {"datum": -0.7875}
              }
            }
          ]
        }
      ],
      "spacing": 122.3,
      "bounds": "flush"
    }
  ]
}
